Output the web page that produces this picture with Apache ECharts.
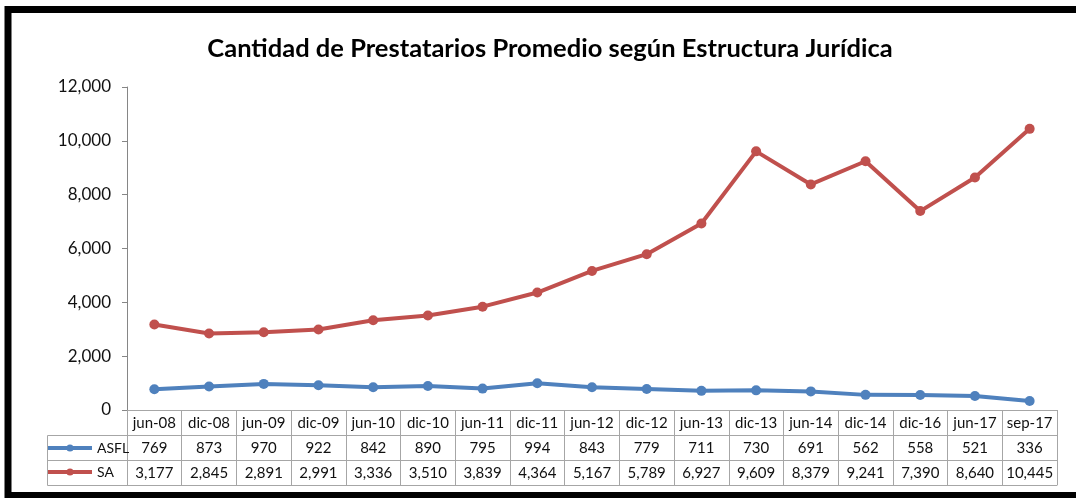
<!DOCTYPE html>
<html>
<head>
<meta charset="utf-8">
<script src="https://cdn.jsdelivr.net/npm/echarts@6/dist/echarts.min.js"></script>
<style>
	html, body { margin: 0; padding: 0; background: #fff; }
	#chart { width: 1076px; height: 498px; }
</style>
</head>
<body>
<div id="chart"></div>
<script>
var periods = ['jun-08', 'dic-08', 'jun-09', 'dic-09', 'jun-10', 'dic-10', 'jun-11', 'dic-11', 'jun-12',
	'dic-12', 'jun-13', 'dic-13', 'jun-14', 'dic-14', 'dic-16', 'jun-17', 'sep-17'];
var asfl = [769, 873, 970, 922, 842, 890, 795, 994, 843, 779, 711, 730, 691, 562, 558, 521, 336];
var sa = [3177, 2845, 2891, 2991, 3336, 3510, 3839, 4364, 5167, 5789, 6927, 9609, 8379, 9241, 7390, 8640, 10445];
var yTicks = [0, 2000, 4000, 6000, 8000, 10000, 12000];

var fontName = 'Lato';
var gridLine = '#a6a6a6';

function fmt(n) {
	return n.toLocaleString('en-US');
}

// one category axis per row of the data table under the plot
function tableAxis(offset, labels, showLine) {
	return {
		type: 'category',
		position: 'bottom',
		offset: offset,
		data: periods,
		axisLine: {show: true, lineStyle: {color: gridLine, width: 1}},
		axisTick: {show: showLine, length: 25, lineStyle: {color: gridLine, width: 1}},
		axisLabel: {
			show: labels != null,
			interval: 0,
			margin: 6,
			color: '#111',
			fontFamily: fontName,
			fontSize: 15,
			formatter: function(v, i) { return labels ? labels[i] : ''; }
		}
	};
}

var myChart = echarts.init(document.getElementById('chart'));

var option = {
	backgroundColor: '#fff',
	animation: false,
	title: {
		text: 'Cantidad de Prestatarios Promedio según Estructura Jurídica',
		left: 545,
		textAlign: 'center',
		top: 31,
		textStyle: {
			fontFamily: fontName,
			fontSize: 25.5,
			fontWeight: 'bold',
			color: '#000'
		}
	},
	grid: {
		left: 127,
		right: 19,
		top: 87,
		bottom: 88,
		containLabel: false
	},
	legend: {
		orient: 'vertical',
		left: 46,
		top: 441,
		padding: 0,
		itemWidth: 44,
		itemHeight: 9,
		itemGap: 10,
		lineStyle: {width: 4},
		textStyle: {fontFamily: fontName, fontSize: 14, color: '#111'},
		data: ['ASFL', 'SA']
	},
	xAxis: [
		tableAxis(0, periods, true),
		tableAxis(25, asfl.map(fmt), true),
		tableAxis(50, sa.map(fmt), true),
		tableAxis(75, null, false)
	],
	yAxis: {
		type: 'value',
		min: yTicks[0],
		max: yTicks[yTicks.length - 1],
		interval: 2000,
		axisLine: {show: true, lineStyle: {color: '#868686', width: 1}},
		axisTick: {show: true, length: 5, lineStyle: {color: '#868686'}},
		splitLine: {show: false},
		axisLabel: {
			margin: 16,
			color: '#111',
			fontFamily: fontName,
			fontSize: 17,
			formatter: function(v) { return fmt(v); }
		}
	},
	graphic: [
		{
			// outer black frame (right side runs off the picture)
			type: 'rect',
			shape: {x: 8, y: 9.5, width: 1090, height: 486},
			style: {fill: 'none', stroke: '#000', lineWidth: 7},
			silent: true
		},
		{
			type: 'polyline',
			shape: {points: [[127, 435.5], [47.5, 435.5], [47.5, 485.5], [127, 485.5]]},
			style: {fill: 'none', stroke: gridLine, lineWidth: 1},
			silent: true
		},
		{
			type: 'line',
			shape: {x1: 47.5, y1: 460.5, x2: 127, y2: 460.5},
			style: {stroke: gridLine, lineWidth: 1},
			silent: true
		}
	],
	series: [
		{
			name: 'ASFL',
			type: 'line',
			data: asfl,
			symbol: 'circle',
			symbolSize: 10,
			lineStyle: {width: 4, color: '#4f81bd'},
			itemStyle: {color: '#4f81bd'}
		},
		{
			name: 'SA',
			type: 'line',
			data: sa,
			symbol: 'circle',
			symbolSize: 10,
			lineStyle: {width: 4, color: '#c0504d'},
			itemStyle: {color: '#c0504d'}
		}
	]
};

myChart.setOption(option);
</script>
</body>
</html>
